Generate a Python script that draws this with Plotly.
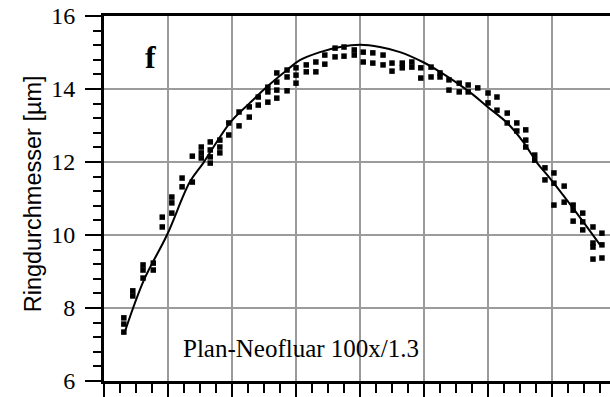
import plotly.graph_objects as go

# measured points (x in arbitrary position units, y = ring diameter in µm)
pts_x = [
    3.1, 3.1, 3.1,
    4.5, 4.5,
    6.1, 6.1, 6.1,
    7.7, 7.7,
    9.1, 9.1,
    10.6, 10.6, 10.6,
    12.2, 12.2,
    13.8, 13.8,
    15.2, 15.2, 15.2,
    16.6, 16.6, 16.6, 16.6,
    18.1, 18.1, 18.1,
    19.5, 19.5,
    21.1, 21.1,
    22.7, 22.7,
    24.1, 24.1,
    25.6, 25.6, 25.6,
    27.0, 27.0, 27.0, 27.0,
    28.6, 28.6, 28.6,
    30.0, 30.0, 30.0,
    31.6, 31.6,
    33.1, 33.1,
    34.5, 34.5,
    36.1, 36.1,
    37.5, 37.5,
    39.1, 39.1,
    40.5, 40.5,
    42.0, 42.0,
    43.6, 43.6,
    45.0, 45.0,
    46.6, 46.6,
    48.1, 48.1,
    49.5, 49.5,
    51.1, 51.1,
    52.5, 52.5,
    53.9, 53.9,
    55.5, 55.5,
    56.9, 56.9,
    58.4,
    60.0, 60.0,
    61.4, 61.4,
    63.0, 63.0,
    64.5, 64.5,
    65.9, 65.9, 65.9,
    67.3, 67.3,
    68.9, 68.9,
    70.3, 70.3, 70.3,
    71.9, 71.9,
    73.3, 73.3, 73.3,
    74.8, 74.8, 74.8,
    76.4, 76.4, 76.4, 76.4,
    77.8, 77.8, 77.8,
]
pts_y = [
    7.73, 7.56, 7.34,
    8.47, 8.33,
    9.18, 9.04, 8.82,
    9.23, 9.04,
    10.49, 10.22,
    11.04, 10.88, 10.60,
    11.56, 11.32,
    12.16, 11.45,
    12.41, 12.25, 12.11,
    12.55, 12.33, 12.14, 11.97,
    12.60, 12.41, 12.25,
    13.07, 12.74,
    13.37, 12.99,
    13.51, 13.23,
    13.78, 13.56,
    14.05, 13.92, 13.64,
    14.44, 14.19, 13.97, 13.75,
    14.52, 14.33, 13.95,
    14.58, 14.38, 14.16,
    14.66, 14.47,
    14.74, 14.47,
    14.93, 14.68,
    15.12, 14.88,
    15.15, 14.90,
    15.07, 14.93,
    15.01, 14.74,
    14.99, 14.71,
    14.93, 14.66,
    14.71, 14.49,
    14.71, 14.58,
    14.74, 14.60,
    14.58, 14.30,
    14.60, 14.33,
    14.44, 14.33,
    14.25, 13.97,
    14.16, 13.92,
    14.11, 13.92,
    14.03,
    13.89, 13.62,
    13.78, 13.42,
    13.34, 13.07,
    13.07, 12.85,
    12.88, 12.60, 12.41,
    12.19, 12.05,
    11.84, 11.51,
    11.70, 11.42, 10.82,
    11.34, 10.90,
    10.82, 10.68, 10.38,
    10.60, 10.36, 10.14,
    10.22, 9.78, 9.67, 9.34,
    10.05, 9.73, 9.37,
]

# fitted curve
fit_x = [3.3, 6.25, 9.84, 13.4, 15.5, 19.8, 22.8, 25.6, 28.6, 30.6, 33.75, 36.9,
         40.0, 43.1, 46.25, 49.8, 52.5, 55.2, 57.7, 59.8, 63.0, 65.5, 67.7, 69.5,
         73.6, 77.5]
fit_y = [7.37, 8.77, 10.0, 11.45, 11.97, 13.10, 13.62, 14.08, 14.52, 14.79, 15.01, 15.15,
         15.21, 15.15, 15.01, 14.74, 14.47, 14.16, 13.84, 13.53, 13.07, 12.55, 11.97, 11.59,
         10.66, 9.73]

y_ticks = [6, 8, 10, 12, 14, 16]
y_ticktext = ["6", "8", "10", "12", "14", "16"]

fig = go.Figure()
fig.add_trace(go.Scatter(
    x=pts_x, y=pts_y, mode="markers",
    marker=dict(symbol="square", size=5.5, color="black", line=dict(width=0)),
    showlegend=False, hoverinfo="skip"))
fig.add_trace(go.Scatter(
    x=fit_x, y=fit_y, mode="lines", line=dict(color="black", width=2, shape="spline"),
    showlegend=False, hoverinfo="skip"))

serif = "Liberation Serif, Times New Roman, serif"

fig.update_layout(
    width=610, height=397,
    margin=dict(l=104, r=0, t=16, b=16),
    paper_bgcolor="white", plot_bgcolor="white",
    xaxis=dict(
        range=[0, 79.06], dtick=10, tick0=0,
        showticklabels=False,
        ticks="outside", ticklen=16, tickwidth=2, tickcolor="black",
        minor=dict(dtick=2.5, ticks="outside", ticklen=9, tickwidth=1.5,
                   tickcolor="black", showgrid=False),
        showgrid=True, gridcolor="rgb(155,155,155)", gridwidth=2,
        showline=True, linecolor="black", linewidth=3, mirror=True,
        zeroline=False, fixedrange=True,
    ),
    yaxis=dict(
        range=[6, 16], tickvals=y_ticks, ticktext=y_ticktext,
        ticks="outside", ticklen=16, tickwidth=2, tickcolor="black",
        minor=dict(dtick=0.4, tick0=6, ticks="outside", ticklen=8, tickwidth=1.5,
                   tickcolor="black", showgrid=False),
        tickfont=dict(family=serif, size=24, color="black"),
        ticklabelstandoff=5,
        showgrid=True, gridcolor="rgb(155,155,155)", gridwidth=2,
        showline=True, linecolor="black", linewidth=3,
        zeroline=False, fixedrange=True,
    ),
    annotations=[
        dict(text="Ringdurchmesser [µm]", xref="paper", yref="paper",
             x=-0.14, y=0.512, textangle=-90, showarrow=False,
             xanchor="center", yanchor="middle",
             font=dict(family="Liberation Sans, Arial, sans-serif", size=23.5, color="black")),
        dict(text="<b>f</b>", xref="x", yref="y", x=7.3, y=14.88, showarrow=False,
             xanchor="center", yanchor="middle",
             font=dict(family=serif, size=32, color="black")),
        dict(text="Plan-Neofluar 100x/1.3", xref="x", yref="y", x=12.0, y=6.88,
             showarrow=False, xanchor="left", yanchor="middle",
             font=dict(family=serif, size=25, color="black")),
    ],
)

fig.write_html("out.html")
